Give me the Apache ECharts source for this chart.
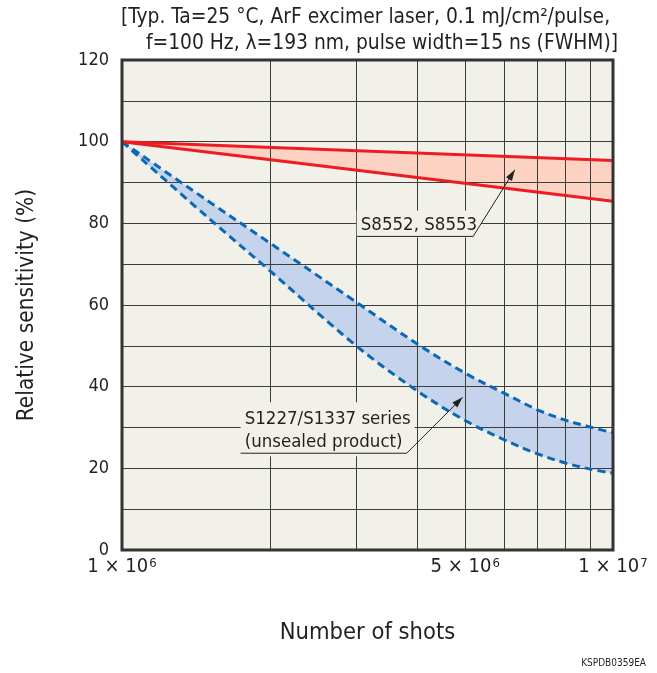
<!DOCTYPE html>
<html><head><meta charset="utf-8">
<script src="https://cdn.jsdelivr.net/npm/echarts@6/dist/echarts.min.js"></script>
<style>html,body{margin:0;padding:0;background:#fff}#c{width:657px;height:673px}</style>
</head><body><div id="c"></div>
<script>
// ---- data ----
const shots = [1e6, 1.5e6, 2e6, 3e6, 4e6, 5e6, 6e6, 7e6, 8e6, 9e6, 1e7];
const s1227Upper = [100, 85.4, 75.2, 60.7, 50.4, 43.3, 38.4, 34.4, 31.8, 30.1, 28.7];
const s1227Lower = [100, 81.3, 68.4, 50.0, 38.9, 31.7, 27.0, 23.6, 21.3, 19.8, 18.8];
const s8552Shots = [1e6, 1e7];
const s8552Upper = [100, 95.4];
const s8552Lower = [100, 85.4];
const yLabelValues = [0, 20, 40, 60, 80, 100, 120];
const xLabelValues = [1e6, 5e6, 1e7];
const xGridValues = [1e6, 2e6, 3e6, 4e6, 5e6, 6e6, 7e6, 8e6, 9e6, 1e7];
const titleLines = ['[Typ. Ta=25 °C, ArF excimer laser, 0.1 mJ/cm²/pulse,', 'f=100 Hz, λ=193 nm, pulse width=15 ns (FWHM)]'];
const note1Text = 'S8552, S8553';
const note2Text = ['S1227/S1337 series', '(unsealed product)'];

// ---- style ----
const FONT = '"DejaVu Sans Condensed", "DejaVu Sans", sans-serif';
const TXT = '#231f20';
const BG = '#f2f1e9';
const GRID = '#3c3c3c';
const RED = '#ed1c24';
const SALMON = '#fcd2c2';
const BLUE = '#0a68b4';
const BLUEFILL = '#c6d3ec';

const pairs = (xs, ys) => xs.map((x, i) => [x, ys[i]]);

const chart = echarts.init(document.getElementById('c'), null, {renderer: 'canvas'});

const fillSeries = (xs, ys, color, z, smooth) => ({
  type: 'line', data: pairs(xs, ys), smooth: smooth, symbol: 'none', silent: true, z: z,
  lineStyle: {opacity: 0}, areaStyle: {color: color, opacity: 1, origin: 'start'}
});

const option = {
  animation: false,
  backgroundColor: '#ffffff',
  grid: {left: 122, right: 44, top: 60, bottom: 123, show: true, backgroundColor: BG, borderWidth: 0, z: 0},
  xAxis: {
    type: 'log', logBase: 10, min: 1e6, max: 1e7, z: 5,
    name: 'Number of shots', nameLocation: 'middle', nameGap: 71,
    nameTextStyle: {fontFamily: FONT, fontSize: 23.5, color: TXT},
    axisLine: {show: false},
    axisTick: {show: false, customValues: xGridValues},
    splitLine: {show: true, lineStyle: {color: GRID, width: 1}},
    axisLabel: {
      customValues: xLabelValues, margin: 7, color: TXT,
      formatter: v => {
        const e = Math.floor(Math.log10(v) + 1e-9);
        const m = Math.round(v / Math.pow(10, e));
        return '{n|' + m + ' × 10}{s|' + e + '}';
      },
      rich: {
        n: {fontFamily: FONT, fontSize: 20, color: TXT},
        s: {fontFamily: FONT, fontSize: 13, color: TXT, verticalAlign: 'top', padding: [0, 0, 0, 1]}
      }
    }
  },
  yAxis: {
    type: 'value', min: 0, max: 120, interval: 10, z: 5,
    name: 'Relative sensitivity (%)', nameLocation: 'middle', nameGap: 83, nameRotate: 90,
    nameTextStyle: {fontFamily: FONT, fontSize: 22.5, color: TXT},
    axisLine: {show: false}, axisTick: {show: false},
    splitLine: {show: true, lineStyle: {color: GRID, width: 1}},
    axisLabel: {customValues: yLabelValues, fontFamily: FONT, fontSize: 18, color: TXT, margin: 13}
  },
  series: [
    fillSeries(s8552Shots, s8552Upper, SALMON, 1, false),
    fillSeries(s8552Shots, s8552Lower, BG, 2, false),
    fillSeries(shots, s1227Upper, BLUEFILL, 3, 0.35),
    fillSeries(shots, s1227Lower, BG, 4, 0.35),
    {type: 'line', name: 'S1227 upper', data: pairs(shots, s1227Upper), smooth: 0.35, symbol: 'none', lineStyle: {color: BLUE, width: 3, type: [8, 5]}, z: 6},
    {type: 'line', name: 'S1227 lower', data: pairs(shots, s1227Lower), smooth: 0.35, symbol: 'none', lineStyle: {color: BLUE, width: 3, type: [8, 5]}, z: 6},
    {type: 'line', name: 'S8552 upper', data: pairs(s8552Shots, s8552Upper), symbol: 'none', lineStyle: {color: RED, width: 3}, z: 6},
    {type: 'line', name: 'S8552 lower', data: pairs(s8552Shots, s8552Lower), symbol: 'none', lineStyle: {color: RED, width: 3}, z: 6}
  ]
};
chart.setOption(option);

// ---- annotations ----
const ctx = document.createElement('canvas').getContext('2d');
const fNote = '18.5px ' + FONT;
const fTitle = '20.8px ' + FONT;
ctx.font = fNote;
const tw = s => ctx.measureText(s).width;
const px = (x, y) => chart.convertToPixel({gridIndex: 0}, [x, y]);

function arrowHead(tip, from) {
  const dx = tip[0] - from[0], dy = tip[1] - from[1];
  const L = Math.hypot(dx, dy), ux = dx / L, uy = dy / L;
  const len = 11, hw = 3.5;
  const bx = tip[0] - ux * len, by = tip[1] - uy * len;
  return {type: 'polygon', z: 20, shape: {points: [tip, [bx - uy * hw, by + ux * hw], [bx + uy * hw, by - ux * hw]]}, style: {fill: '#222'}};
}

const graphics = [];
// frame
{
  const tl = px(1e6, 120), br = px(1e7, 0);
  graphics.push({type: 'rect', z: 30, shape: {x: tl[0], y: tl[1], width: br[0] - tl[0], height: br[1] - tl[1]}, style: {fill: null, stroke: '#333', lineWidth: 3}});
}
// note 1
{
  const start = px(5.19e6, 76.8), tip = px(6.31e6, 93.1);
  const w = tw(note1Text);
  const left = start[0] - w;
  graphics.push({type: 'text', z: 15, x: left, y: start[1] + 1, style: {text: note1Text, font: fNote, fill: TXT, align: 'left', verticalAlign: 'bottom', backgroundColor: BG, padding: [5, 4, 3, 4]}});
  graphics.push({type: 'polyline', z: 20, shape: {points: [[left, start[1]], start, tip]}, style: {stroke: '#222', lineWidth: 1, fill: null}});
  graphics.push(arrowHead(tip, start));
}
// note 2
{
  const start = px(3.80e6, 23.7), tip = px(4.94e6, 37.4);
  const w = Math.max(tw(note2Text[0]), tw(note2Text[1]));
  const left = start[0] - w;
  graphics.push({type: 'text', z: 15, x: left, y: start[1] + 3, style: {text: note2Text.join('\n'), font: fNote, lineHeight: 23, fill: TXT, align: 'left', verticalAlign: 'bottom', backgroundColor: BG, padding: [5, 4, 3, 4]}});
  graphics.push({type: 'polyline', z: 20, shape: {points: [[left, start[1]], start, tip]}, style: {stroke: '#222', lineWidth: 1, fill: null}});
  graphics.push(arrowHead(tip, start));
}
// title
graphics.push({type: 'text', x: 121, y: 18, style: {text: titleLines[0], font: fTitle, fill: TXT, align: 'left', verticalAlign: 'middle'}});
graphics.push({type: 'text', x: 618, y: 44, style: {text: titleLines[1], font: fTitle, fill: TXT, align: 'right', verticalAlign: 'middle'}});
// code
graphics.push({type: 'text', x: 646, y: 663, style: {text: 'KSPDB0359EA', font: '10px ' + FONT, fill: TXT, align: 'right', verticalAlign: 'middle'}});

chart.setOption({graphic: graphics});
</script>
</body></html>
